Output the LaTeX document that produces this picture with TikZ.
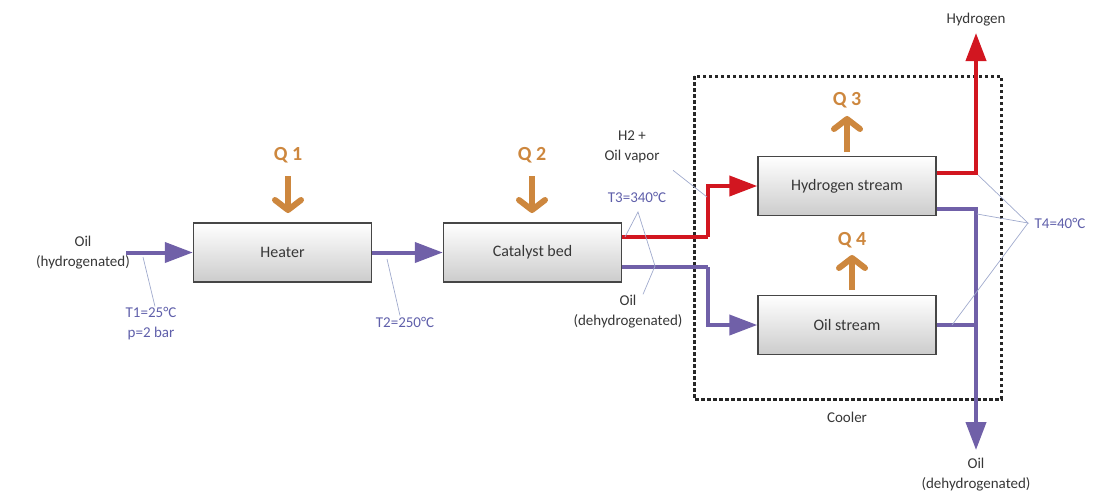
\documentclass[tikz,border=0pt]{standalone}
\usepackage{fontspec}
\setmainfont{Carlito}
\usetikzlibrary{arrows.meta}
\definecolor{txt}{RGB}{55,55,55}
\definecolor{lblue}{RGB}{95,95,170}
\definecolor{leadc}{RGB}{160,170,205}
\definecolor{oilc}{RGB}{112,96,168}
\definecolor{hyc}{RGB}{210,22,32}
\definecolor{qc}{RGB}{205,135,62}
\definecolor{boxc}{RGB}{70,70,70}
\tikzset{
  unitbox/.style={draw=boxc, line width=1.4pt, top color=white, bottom color=black!20,
    minimum width=178pt, minimum height=59pt, inner sep=0pt, text=txt,
    font=\fontsize{16}{19}\selectfont},
  lbl/.style={text=txt, align=center, font=\fontsize{15}{20}\selectfont, inner sep=1pt},
  blbl/.style={text=lblue, align=center, font=\fontsize{15}{20}\selectfont, inner sep=1pt},
  qlbl/.style={text=qc, font=\fontsize{20}{24}\selectfont\bfseries, inner sep=0pt},
  oilline/.style={draw=oilc, line width=4pt},
  hyline/.style={draw=hyc, line width=4pt},
  flowtip/.style={-{Triangle[length=28pt,width=20pt]}},
  qarrow/.style={draw=qc, line width=6pt, -{Straight Barb[length=10pt,width=26pt,round]}},
  leader/.style={draw=leadc, line width=0.7pt},
  coolerbox/.style={draw=black!85, line width=3pt, dash pattern=on 3.5pt off 2.5pt}
}
\begin{document}
\begin{tikzpicture}[x=1pt,y=-1pt]
\useasboundingbox (0,0) rectangle (1094,493);

% cooler dashed box
\draw[coolerbox] (694,76) rectangle (1001,399);
\node[lbl] (cooler) at (847,417) {Cooler};

% unit boxes
\node[unitbox] (heater) at (282.5,252.5) {Heater};
\node[unitbox] (catalyst) at (532.5,252.5) {Catalyst bed};
\node[unitbox] (hstream) at (847,186) {Hydrogen stream};
\node[unitbox] (ostream) at (847,325) {Oil stream};

% text labels
\node[lbl] (oilin) at (83,253) {Oil\\(hydrogenated)};
\node[blbl] (t1) at (151,324) {T1=25°C\\p=2 bar};
\node[blbl] (t2) at (405,322) {T2=250°C};
\node[blbl] (t3) at (637,197) {T3=340°C};
\node[lbl] (h2v) at (632,147) {H2 +\\Oil vapor};
\node[lbl] (oilmid) at (628,312) {Oil\\(dehydrogenated)};
\node[blbl] (t4) at (1060,223) {T4=40°C};
\node[lbl] (hyout) at (976,20) {Hydrogen};
\node[lbl] (oilout) at (976,475) {Oil\\(dehydrogenated)};

% coordinates
\coordinate (inlet) at (126,252.5);
\coordinate (rj) at (708,237);
\coordinate (pj) at (708,267);
\coordinate (hyc1) at (976,173);
\coordinate (hytop) at (976,33);
\coordinate (oc1) at (976,209);
\coordinate (ocj) at (976,325);
\coordinate (obot) at (976,450);

% flows
\draw[oilline, flowtip] (inlet) -- (heater.west);
\draw[oilline, flowtip] (heater.east) -- (catalyst.west);
\draw[hyline] ([yshift=15.5pt]catalyst.east) -- (rj);
\draw[hyline, flowtip] (rj) |- (hstream.west);
\draw[oilline] ([yshift=-14.5pt]catalyst.east) -- (pj);
\draw[oilline, flowtip] (pj) |- (ostream.west);
\draw[hyline, flowtip] ([yshift=13pt]hstream.east) -- (hyc1) -- (hytop);
\draw[oilline, flowtip] ([yshift=-23pt]hstream.east) -- (oc1) -- (obot);
\draw[oilline] (ostream.east) -- (ocj);

% heat arrows
\node[qlbl] (q1) at (288,155) {Q 1};
\node[qlbl] (q2) at (532,155) {Q 2};
\node[qlbl] (q3) at (847,100) {Q 3};
\node[qlbl] (q4) at (852,240) {Q 4};
\draw[qarrow] (288,176) -- (288,213);
\draw[qarrow] (532,176) -- (532,213);
\draw[qarrow] (847,152) -- (847,116);
\draw[qarrow] (852,290) -- (852,255);

% leader lines
\coordinate (l1) at (143,257);
\coordinate (l2) at (387,259);
\coordinate (t3a) at (638,212);
\coordinate (l3r) at (625,237);
\coordinate (l3p) at (655,266);
\coordinate (lh2) at (707,197);
\coordinate (t4a) at (1028,223);
\coordinate (l4a) at (978,175);
\coordinate (l4b) at (977,214);
\coordinate (l4c) at (952,325);
\draw[leader] (l1) -- ([xshift=4pt]t1.north);
\draw[leader] (l2) -- ([xshift=-5pt]t2.north);
\draw[leader] (l3r) -- (t3a) -- (l3p);
\draw[leader] ([xshift=15pt]oilmid.north) -- (l3p);
\draw[leader] ([xshift=41pt,yshift=-6pt]h2v.south) -- (lh2);
\draw[leader] (l4a) -- (t4a) -- (l4b);
\draw[leader] (t4a) -- (l4c);
\end{tikzpicture}
\end{document}
